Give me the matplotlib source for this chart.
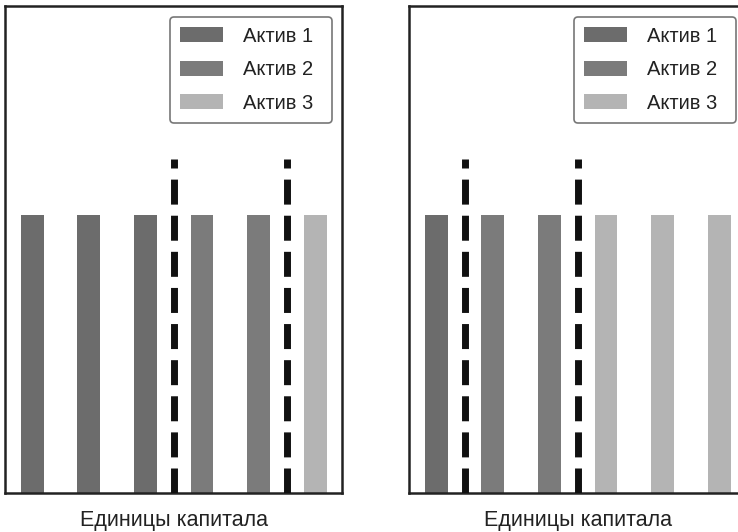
import matplotlib.pyplot as plt
from matplotlib.patches import Patch

# Данные: 6 единиц капитала, у каждой высота 1, цвет по активу
units = [0, 1, 2, 3, 4, 5]
heights = [1, 1, 1, 1, 1, 1]
assets_left = [1, 1, 1, 2, 2, 3]
assets_right = [1, 2, 2, 3, 3, 3]
splits_left = [2.5, 4.5]
splits_right = [0.5, 2.5]
split_height = 1.2
asset_labels = ["Актив 1", "Актив 2", "Актив 3"]
asset_colors = {1: "#6c6c6c", 2: "#7b7b7b", 3: "#b4b4b4"}
xlabel = "Единицы капитала"

plt.rcParams["font.family"] = ["Liberation Sans", "DejaVu Sans"]


def draw_panel(ax, assets, splits):
    colors = [asset_colors[a] for a in assets]
    ax.bar(units, heights, width=0.4, color=colors, zorder=2)
    for s in splits:
        line, = ax.plot([s, s], [0, split_height], color="#111111", lw=5,
                        zorder=3)
        line.set_dashes((3.6, 1.6))
        line.set_dash_capstyle("butt")
    ax.set_xlim(-0.48, 5.47)
    ax.set_ylim(0, 1.75)
    ax.set_xticks([])
    ax.set_yticks([])
    for sp in ax.spines.values():
        sp.set_linewidth(1.8)
        sp.set_color("#222222")
    ax.set_xlabel(xlabel, fontsize=15.5, labelpad=12, color="#222222")
    handles = [Patch(facecolor=asset_colors[i + 1], label=lab)
               for i, lab in enumerate(asset_labels)]
    # рамка легенды растянута по заданной ширине
    leg = ax.legend(handles=handles, loc="upper right", fontsize=14.5,
                    bbox_to_anchor=(0.49, 0.0, 0.48, 0.978), mode="expand",
                    handlelength=2.15, handleheight=0.75, handletextpad=0.95,
                    labelspacing=0.72, borderpad=0.5, borderaxespad=0.0,
                    fancybox=True, framealpha=1)
    leg.get_frame().set_edgecolor("#777777")
    leg.get_frame().set_linewidth(1.2)
    for t in leg.get_texts():
        t.set_color("#222222")


fig = plt.figure(figsize=(7.38, 5.32), dpi=100)
ax1 = fig.add_axes([5 / 738, 1 - 493 / 532, 337 / 738, 487 / 532])
ax2 = fig.add_axes([409 / 738, 1 - 493 / 532, 337 / 738, 487 / 532])
draw_panel(ax1, assets_left, splits_left)
draw_panel(ax2, assets_right, splits_right)

fig.savefig("out.png", dpi=100)
